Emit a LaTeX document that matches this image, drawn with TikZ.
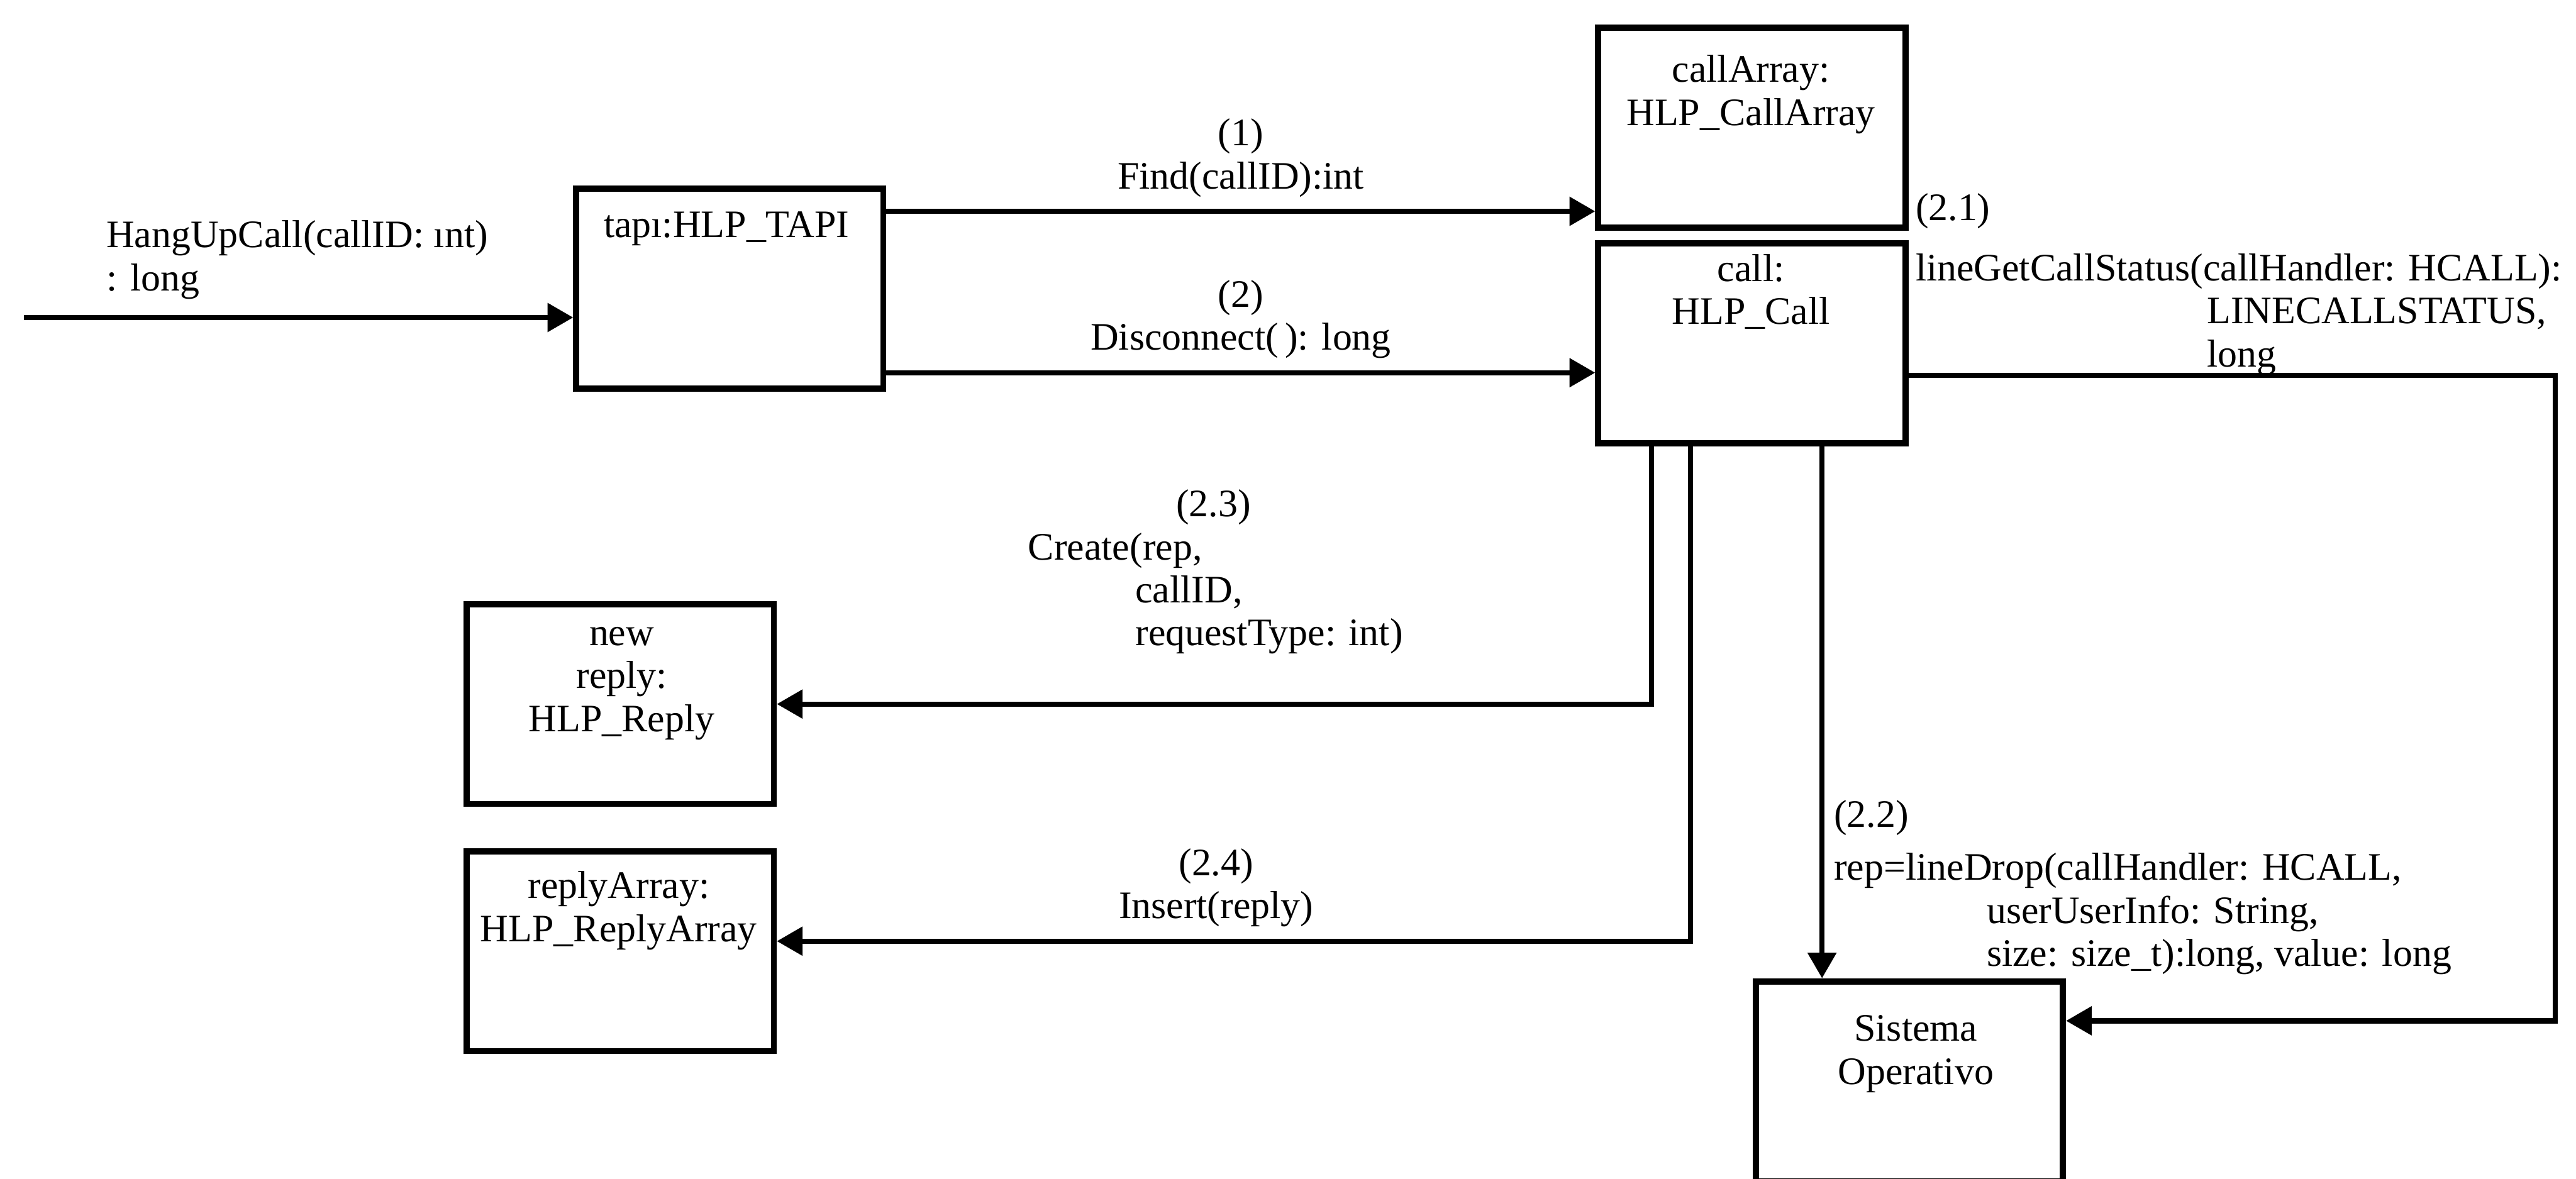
\documentclass[tikz,border=0pt]{standalone}
\usepackage{fontspec}
\setmainfont{Liberation Serif}
\usetikzlibrary{arrows.meta}

\tikzset{
  obj/.style={draw, line width=3pt, minimum width=5.27cm, minimum height=3.43cm, inner sep=0pt},
  msg/.style={line width=2.5pt, -{Triangle[length=0.44cm,width=0.48cm]}},
  txt/.style={inner sep=0pt, align=center},
}

\begin{document}
\begin{tikzpicture}[font=\fontsize{19}{21}\selectfont]
  \useasboundingbox (0,0) rectangle (44.21,-20.23);

  % objects
  \node[obj] (tapi) at (12.525,-4.955) {};
  \node[obj] (ca)   at (30.065,-2.19) {};
  \node[obj] (call) at (30.065,-5.895) {};
  \node[obj] (rep)  at (10.645,-12.085) {};
  \node[obj] (ra)   at (10.645,-16.325) {};
  \node[obj] (so)   at (32.77,-18.56) {};

  \node[txt] (tapi-t) at (12.47,-3.93)  {tapı:HLP\_TAPI};
  \node[txt] (ca-t)   at (30.05,-1.62)  {callArray:\\HLP\_CallArray};
  \node[txt] (call-t) at (30.05,-5.01)  {call:\\HLP\_Call};
  \node[txt] (rep-t)  at (10.67,-11.73) {new\\reply:\\HLP\_Reply};
  \node[txt] (ra-t)   at (10.62,-15.63) {replyArray:\\HLP\_ReplyArray};
  \node[txt] (so-t)   at (32.88,-18.09) {Sistema\\Operativo};

  % incoming call
  \coordinate (in) at (0.41,-5.45);
  \draw[msg] (in) -- (in -| tapi.west);
  \node[txt, align=left, anchor=west] (hang) at (1.82,-4.46) {HangUpCall(callID: ınt)\\: long};

  % (1) and (2)
  \coordinate (s1) at ([yshift=-0.44cm]tapi.north east);
  \coordinate (s2) at ([yshift=-3.21cm]tapi.north east);
  \draw[msg] (s1) -- (s1 -| ca.west) node[midway, above=0.2cm, txt] (find) {(1)\\Find(callID):int};
  \draw[msg] (s2) -- (s2 -| call.west) node[midway, above=0.2cm, txt] (disc) {(2)\\Disconnect(\,): long};

  % (2.1) to the system
  \coordinate (s21) at ([yshift=-2.32cm]call.north east);
  \coordinate (t21) at ([yshift=-0.73cm]so.north east);
  \draw[msg] (s21) -- (s21 -| 43.85,0) |- (t21);
  \node[txt, align=left, anchor=north west] (status) at (32.87,-3.31)
    {(2.1)\\[0.3cm]lineGetCallStatus(callHandler: HCALL):\\
     \hspace*{5cm}LINECALLSTATUS,\\\hspace*{5cm}long};

  % (2.2)
  \coordinate (s22) at (call.south -| 31.27,0);
  \draw[msg] (s22) -- (s22 |- so.north);
  \node[txt, align=left, anchor=north west] (drop) at (31.47,-13.73)
    {(2.2)\\[0.17cm]rep=lineDrop(callHandler: HCALL,\\
     \hspace*{2.62cm}userUserInfo: String,\\\hspace*{2.62cm}size: size\_t):long, value: long};

  % (2.3) and (2.4)
  \coordinate (s23) at (call.south -| 28.34,0);
  \coordinate (s24) at (call.south -| 29.01,0);
  \draw[msg] (s23) |- (rep.east);
  \node[txt, align=left, anchor=north west] (create) at (17.64,-8.40)
    {\hspace*{2.54cm}(2.3)\\Create(rep,\\\hspace*{1.84cm}callID,\\\hspace*{1.84cm}requestType: int)};
  \draw[msg] (s24) |- ([yshift=0.17cm]ra.east)
    node[pos=0.75, above=0.2cm, xshift=-0.3cm, txt] (insert) {(2.4)\\Insert(reply)};
\end{tikzpicture}
\end{document}
